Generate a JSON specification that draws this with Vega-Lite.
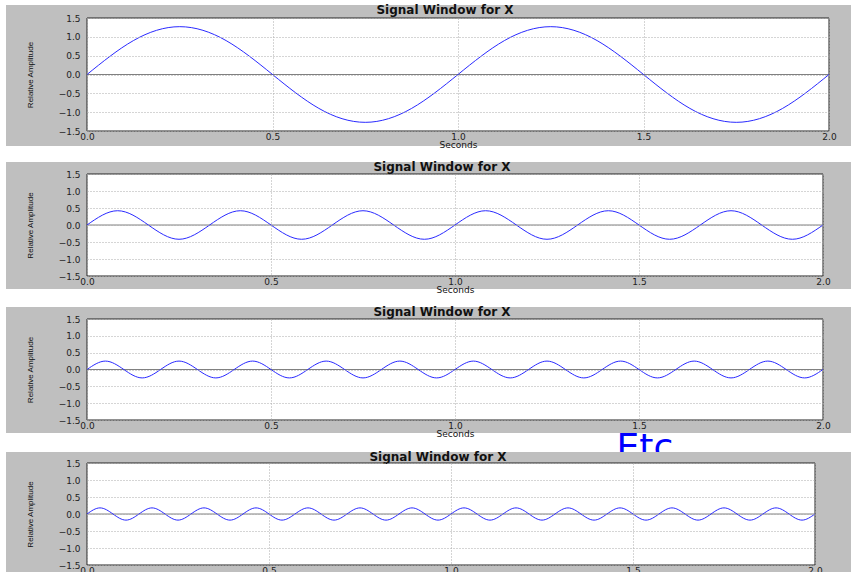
{
  "$schema": "https://vega.github.io/schema/vega-lite/v6.json",
  "padding": {"left": 6, "top": 4, "right": 0, "bottom": 0},
  "background": "white",
  "config": {
    "view": {"stroke": null, "fill": null},
    "axis": {"zindex": 1, "domain": false, "ticks": false, "grid": true, "gridColor": "#aaaaaa", "gridDash": [1, 2], "gridWidth": 1, "labelFont": "DejaVu Sans", "labelFontSize": 9, "labelColor": "#222222", "labelFlush": false, "labelOverlap": false, "titleFont": "DejaVu Sans", "titleFontWeight": "normal", "titleColor": "#111111"},
    "axisX": {"labelPadding": 1, "titlePadding": -1, "titleFontSize": 9},
    "axisY": {"labelPadding": 7, "titlePadding": 24, "titleFont": "Liberation Sans", "titleFontSize": 8},
    "title": {"font": "DejaVu Sans", "fontSize": 12, "fontWeight": "bold", "color": "#111111", "anchor": "middle", "baseline": "alphabetic", "offset": -12, "dx": -13}
  },
  "concat": [
    {
      "width": 742, "height": 113,
      "title": "Signal Window for X",
      "layer": [
        {"data": {"values": [{}]}, "mark": {"type": "rect", "color": "#bfbfbf", "clip": false},
         "encoding": {"x": {"datum": -0.2183, "type": "quantitative", "scale": {"domain": [0, 2], "nice": false, "zero": false}, "axis": {"values": [0, 0.5, 1, 1.5, 2], "format": ".1f", "title": "Seconds", "zindex": 1}}, "x2": {"datum": 2.0593},
                      "y": {"datum": 1.8451, "type": "quantitative", "scale": {"domain": [-1.5, 1.5], "nice": false}, "axis": {"values": [-1.5, -1, -0.5, 0, 0.5, 1, 1.5], "format": ".1f", "title": "Relative Amplitude", "zindex": 1}}, "y2": {"datum": -1.8982}}},
        {"data": {"values": [{}]}, "mark": {"type": "rect", "fill": "white", "stroke": "#222222", "strokeWidth": 1},
         "encoding": {"x": {"datum": 0, "type": "quantitative", "scale": {"domain": [0, 2], "nice": false, "zero": false}, "axis": {"values": [0, 0.5, 1, 1.5, 2], "format": ".1f", "title": "Seconds", "zindex": 1}}, "x2": {"datum": 2},
                      "y": {"datum": 1.5, "type": "quantitative", "scale": {"domain": [-1.5, 1.5], "nice": false}, "axis": {"values": [-1.5, -1, -0.5, 0, 0.5, 1, 1.5], "format": ".1f", "title": "Relative Amplitude", "zindex": 1}}, "y2": {"datum": -1.5}}},
        {"data": {"values": [{}]}, "mark": {"type": "rule", "color": "#808080", "strokeWidth": 1},
         "encoding": {"y": {"datum": 0, "type": "quantitative", "scale": {"domain": [-1.5, 1.5], "nice": false}, "axis": {"values": [-1.5, -1, -0.5, 0, 0.5, 1, 1.5], "format": ".1f", "title": "Relative Amplitude", "zindex": 1}}}},
        {"data": {"values": [{"t":0,"v":0},{"t":0.125,"v":0.9},{"t":0.25,"v":1.27},{"t":0.375,"v":0.9},{"t":0.5,"v":0},{"t":0.625,"v":-0.9},{"t":0.75,"v":-1.27},{"t":0.875,"v":-0.9},{"t":1,"v":0},{"t":1.125,"v":0.9},{"t":1.25,"v":1.27},{"t":1.375,"v":0.9},{"t":1.5,"v":0},{"t":1.625,"v":-0.9},{"t":1.75,"v":-1.27},{"t":1.875,"v":-0.9},{"t":2,"v":0}]},
         "mark": {"type": "line", "interpolate": "natural", "color": "#2a2aff", "strokeWidth": 1},
         "encoding": {"x": {"field": "t", "type": "quantitative", "scale": {"domain": [0, 2], "nice": false, "zero": false}, "axis": {"values": [0, 0.5, 1, 1.5, 2], "format": ".1f", "title": "Seconds", "zindex": 1}},
                      "y": {"field": "v", "type": "quantitative", "scale": {"domain": [-1.5, 1.5], "nice": false}, "axis": {"values": [-1.5, -1, -0.5, 0, 0.5, 1, 1.5], "format": ".1f", "title": "Relative Amplitude", "zindex": 1}}}}
      ]
    },
    {
      "width": 736, "height": 102,
      "title": "Signal Window for X",
      "layer": [
        {"data": {"values": [{}]}, "mark": {"type": "rect", "color": "#bfbfbf", "clip": false},
         "encoding": {"x": {"datum": -0.2201, "type": "quantitative", "scale": {"domain": [0, 2], "nice": false, "zero": false}, "axis": {"values": [0, 0.5, 1, 1.5, 2], "format": ".1f", "title": "Seconds", "zindex": 1}}, "x2": {"datum": 2.0761},
                      "y": {"datum": 1.8529, "type": "quantitative", "scale": {"domain": [-1.5, 1.5], "nice": false}, "axis": {"values": [-1.5, -1, -0.5, 0, 0.5, 1, 1.5], "format": ".1f", "title": "Relative Amplitude", "zindex": 1}}, "y2": {"datum": -1.8824}}},
        {"data": {"values": [{}]}, "mark": {"type": "rect", "fill": "white", "stroke": "#222222", "strokeWidth": 1},
         "encoding": {"x": {"datum": 0, "type": "quantitative", "scale": {"domain": [0, 2], "nice": false, "zero": false}, "axis": {"values": [0, 0.5, 1, 1.5, 2], "format": ".1f", "title": "Seconds", "zindex": 1}}, "x2": {"datum": 2},
                      "y": {"datum": 1.5, "type": "quantitative", "scale": {"domain": [-1.5, 1.5], "nice": false}, "axis": {"values": [-1.5, -1, -0.5, 0, 0.5, 1, 1.5], "format": ".1f", "title": "Relative Amplitude", "zindex": 1}}, "y2": {"datum": -1.5}}},
        {"data": {"values": [{}]}, "mark": {"type": "rule", "color": "#808080", "strokeWidth": 1},
         "encoding": {"y": {"datum": 0, "type": "quantitative", "scale": {"domain": [-1.5, 1.5], "nice": false}, "axis": {"values": [-1.5, -1, -0.5, 0, 0.5, 1, 1.5], "format": ".1f", "title": "Relative Amplitude", "zindex": 1}}}},
        {"data": {"values": [{"t":0,"v":0},{"t":0.0833,"v":0.42},{"t":0.1667,"v":0},{"t":0.25,"v":-0.42},{"t":0.3333,"v":0},{"t":0.4167,"v":0.42},{"t":0.5,"v":0},{"t":0.5833,"v":-0.42},{"t":0.6667,"v":0},{"t":0.75,"v":0.42},{"t":0.8333,"v":0},{"t":0.9167,"v":-0.42},{"t":1,"v":0},{"t":1.0833,"v":0.42},{"t":1.1667,"v":0},{"t":1.25,"v":-0.42},{"t":1.3333,"v":0},{"t":1.4167,"v":0.42},{"t":1.5,"v":0},{"t":1.5833,"v":-0.42},{"t":1.6667,"v":0},{"t":1.75,"v":0.42},{"t":1.8333,"v":0},{"t":1.9167,"v":-0.42},{"t":2,"v":0}]},
         "mark": {"type": "line", "interpolate": "natural", "color": "#2a2aff", "strokeWidth": 1},
         "encoding": {"x": {"field": "t", "type": "quantitative", "scale": {"domain": [0, 2], "nice": false, "zero": false}, "axis": {"values": [0, 0.5, 1, 1.5, 2], "format": ".1f", "title": "Seconds", "zindex": 1}},
                      "y": {"field": "v", "type": "quantitative", "scale": {"domain": [-1.5, 1.5], "nice": false}, "axis": {"values": [-1.5, -1, -0.5, 0, 0.5, 1, 1.5], "format": ".1f", "title": "Relative Amplitude", "zindex": 1}}}}
      ]
    },
    {
      "width": 736, "height": 101,
      "title": "Signal Window for X",
      "layer": [
        {"data": {"values": [{}]}, "mark": {"type": "rect", "color": "#bfbfbf", "clip": false},
         "encoding": {"x": {"datum": -0.2201, "type": "quantitative", "scale": {"domain": [0, 2], "nice": false, "zero": false}, "axis": {"values": [0, 0.5, 1, 1.5, 2], "format": ".1f", "title": "Seconds", "zindex": 1}}, "x2": {"datum": 2.0761},
                      "y": {"datum": 1.8564, "type": "quantitative", "scale": {"domain": [-1.5, 1.5], "nice": false}, "axis": {"values": [-1.5, -1, -0.5, 0, 0.5, 1, 1.5], "format": ".1f", "title": "Relative Amplitude", "zindex": 1}}, "y2": {"datum": -1.8861}}},
        {"data": {"values": [{}]}, "mark": {"type": "rect", "fill": "white", "stroke": "#222222", "strokeWidth": 1},
         "encoding": {"x": {"datum": 0, "type": "quantitative", "scale": {"domain": [0, 2], "nice": false, "zero": false}, "axis": {"values": [0, 0.5, 1, 1.5, 2], "format": ".1f", "title": "Seconds", "zindex": 1}}, "x2": {"datum": 2},
                      "y": {"datum": 1.5, "type": "quantitative", "scale": {"domain": [-1.5, 1.5], "nice": false}, "axis": {"values": [-1.5, -1, -0.5, 0, 0.5, 1, 1.5], "format": ".1f", "title": "Relative Amplitude", "zindex": 1}}, "y2": {"datum": -1.5}}},
        {"data": {"values": [{}]}, "mark": {"type": "rule", "color": "#808080", "strokeWidth": 1},
         "encoding": {"y": {"datum": 0, "type": "quantitative", "scale": {"domain": [-1.5, 1.5], "nice": false}, "axis": {"values": [-1.5, -1, -0.5, 0, 0.5, 1, 1.5], "format": ".1f", "title": "Relative Amplitude", "zindex": 1}}}},
        {"data": {"values": [{"t":0,"v":0},{"t":0.05,"v":0.25},{"t":0.1,"v":0},{"t":0.15,"v":-0.25},{"t":0.2,"v":0},{"t":0.25,"v":0.25},{"t":0.3,"v":0},{"t":0.35,"v":-0.25},{"t":0.4,"v":0},{"t":0.45,"v":0.25},{"t":0.5,"v":0},{"t":0.55,"v":-0.25},{"t":0.6,"v":0},{"t":0.65,"v":0.25},{"t":0.7,"v":0},{"t":0.75,"v":-0.25},{"t":0.8,"v":0},{"t":0.85,"v":0.25},{"t":0.9,"v":0},{"t":0.95,"v":-0.25},{"t":1,"v":0},{"t":1.05,"v":0.25},{"t":1.1,"v":0},{"t":1.15,"v":-0.25},{"t":1.2,"v":0},{"t":1.25,"v":0.25},{"t":1.3,"v":0},{"t":1.35,"v":-0.25},{"t":1.4,"v":0},{"t":1.45,"v":0.25},{"t":1.5,"v":0},{"t":1.55,"v":-0.25},{"t":1.6,"v":0},{"t":1.65,"v":0.25},{"t":1.7,"v":0},{"t":1.75,"v":-0.25},{"t":1.8,"v":0},{"t":1.85,"v":0.25},{"t":1.9,"v":0},{"t":1.95,"v":-0.25},{"t":2,"v":0}]},
         "mark": {"type": "line", "interpolate": "natural", "color": "#2a2aff", "strokeWidth": 1},
         "encoding": {"x": {"field": "t", "type": "quantitative", "scale": {"domain": [0, 2], "nice": false, "zero": false}, "axis": {"values": [0, 0.5, 1, 1.5, 2], "format": ".1f", "title": "Seconds", "zindex": 1}},
                      "y": {"field": "v", "type": "quantitative", "scale": {"domain": [-1.5, 1.5], "nice": false}, "axis": {"values": [-1.5, -1, -0.5, 0, 0.5, 1, 1.5], "format": ".1f", "title": "Relative Amplitude", "zindex": 1}}}},
        {"data": {"values": [{"label": "Etc"}]}, "mark": {"type": "text", "font": "DejaVu Sans", "fontSize": 36, "color": "#0000ff", "align": "left", "baseline": "alphabetic", "clip": false},
         "encoding": {"x": {"datum": 1.4389, "type": "quantitative", "scale": {"domain": [0, 2], "nice": false, "zero": false}, "axis": {"values": [0, 0.5, 1, 1.5, 2], "format": ".1f", "title": "Seconds", "zindex": 1}},
                      "y": {"datum": -2.6644, "type": "quantitative", "scale": {"domain": [-1.5, 1.5], "nice": false}, "axis": {"values": [-1.5, -1, -0.5, 0, 0.5, 1, 1.5], "format": ".1f", "title": "Relative Amplitude", "zindex": 1}},
                      "text": {"field": "label"}}}
      ]
    },
    {
      "width": 728, "height": 102,
      "title": "Signal Window for X",
      "layer": [
        {"data": {"values": [{}]}, "mark": {"type": "rect", "color": "#bfbfbf", "clip": false},
         "encoding": {"x": {"datum": -0.2225, "type": "quantitative", "scale": {"domain": [0, 2], "nice": false, "zero": false}, "axis": {"values": [0, 0.5, 1, 1.5, 2], "format": ".1f", "title": "Seconds", "zindex": 1}}, "x2": {"datum": 2.0989},
                      "y": {"datum": 1.8235, "type": "quantitative", "scale": {"domain": [-1.5, 1.5], "nice": false}, "axis": {"values": [-1.5, -1, -0.5, 0, 0.5, 1, 1.5], "format": ".1f", "title": "Relative Amplitude", "zindex": 1}}, "y2": {"datum": -1.71}}},
        {"data": {"values": [{}]}, "mark": {"type": "rect", "fill": "white", "stroke": "#222222", "strokeWidth": 1},
         "encoding": {"x": {"datum": 0, "type": "quantitative", "scale": {"domain": [0, 2], "nice": false, "zero": false}, "axis": {"values": [0, 0.5, 1, 1.5, 2], "format": ".1f", "title": "Seconds", "zindex": 1}}, "x2": {"datum": 2},
                      "y": {"datum": 1.5, "type": "quantitative", "scale": {"domain": [-1.5, 1.5], "nice": false}, "axis": {"values": [-1.5, -1, -0.5, 0, 0.5, 1, 1.5], "format": ".1f", "title": "Relative Amplitude", "zindex": 1}}, "y2": {"datum": -1.5}}},
        {"data": {"values": [{}]}, "mark": {"type": "rule", "color": "#808080", "strokeWidth": 1},
         "encoding": {"y": {"datum": 0, "type": "quantitative", "scale": {"domain": [-1.5, 1.5], "nice": false}, "axis": {"values": [-1.5, -1, -0.5, 0, 0.5, 1, 1.5], "format": ".1f", "title": "Relative Amplitude", "zindex": 1}}}},
        {"data": {"values": [{"t":0,"v":0},{"t":0.0357,"v":0.18},{"t":0.0714,"v":0},{"t":0.1071,"v":-0.18},{"t":0.1429,"v":0},{"t":0.1786,"v":0.18},{"t":0.2143,"v":0},{"t":0.25,"v":-0.18},{"t":0.2857,"v":0},{"t":0.3214,"v":0.18},{"t":0.3571,"v":0},{"t":0.3929,"v":-0.18},{"t":0.4286,"v":0},{"t":0.4643,"v":0.18},{"t":0.5,"v":0},{"t":0.5357,"v":-0.18},{"t":0.5714,"v":0},{"t":0.6071,"v":0.18},{"t":0.6429,"v":0},{"t":0.6786,"v":-0.18},{"t":0.7143,"v":0},{"t":0.75,"v":0.18},{"t":0.7857,"v":0},{"t":0.8214,"v":-0.18},{"t":0.8571,"v":0},{"t":0.8929,"v":0.18},{"t":0.9286,"v":0},{"t":0.9643,"v":-0.18},{"t":1,"v":0},{"t":1.0357,"v":0.18},{"t":1.0714,"v":0},{"t":1.1071,"v":-0.18},{"t":1.1429,"v":0},{"t":1.1786,"v":0.18},{"t":1.2143,"v":0},{"t":1.25,"v":-0.18},{"t":1.2857,"v":0},{"t":1.3214,"v":0.18},{"t":1.3571,"v":0},{"t":1.3929,"v":-0.18},{"t":1.4286,"v":0},{"t":1.4643,"v":0.18},{"t":1.5,"v":0},{"t":1.5357,"v":-0.18},{"t":1.5714,"v":0},{"t":1.6071,"v":0.18},{"t":1.6429,"v":0},{"t":1.6786,"v":-0.18},{"t":1.7143,"v":0},{"t":1.75,"v":0.18},{"t":1.7857,"v":0},{"t":1.8214,"v":-0.18},{"t":1.8571,"v":0},{"t":1.8929,"v":0.18},{"t":1.9286,"v":0},{"t":1.9643,"v":-0.18},{"t":2,"v":0}]},
         "mark": {"type": "line", "interpolate": "natural", "color": "#2a2aff", "strokeWidth": 1},
         "encoding": {"x": {"field": "t", "type": "quantitative", "scale": {"domain": [0, 2], "nice": false, "zero": false}, "axis": {"values": [0, 0.5, 1, 1.5, 2], "format": ".1f", "title": "Seconds", "zindex": 1}},
                      "y": {"field": "v", "type": "quantitative", "scale": {"domain": [-1.5, 1.5], "nice": false}, "axis": {"values": [-1.5, -1, -0.5, 0, 0.5, 1, 1.5], "format": ".1f", "title": "Relative Amplitude", "zindex": 1}}}}
      ]
    }
  ],
  "columns": 1, "bounds": "flush", "spacing": 43
}
